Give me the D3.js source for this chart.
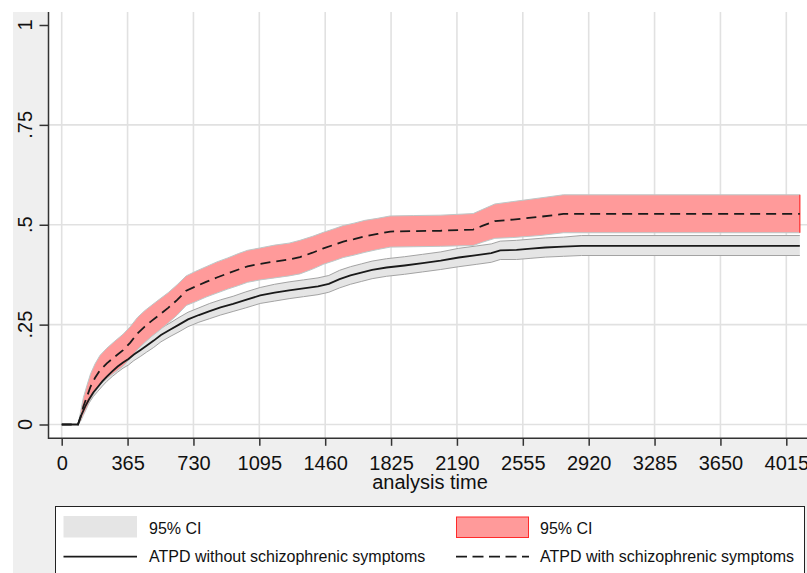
<!DOCTYPE html>
<html>
<head>
<meta charset="utf-8">
<script src="https://cdn.jsdelivr.net/npm/d3@7"></script>
<style>
  html, body { margin: 0; padding: 0; background: #fff; }
  svg { display: block; font-family: Arial, "Liberation Sans", sans-serif; }
</style>
</head>
<body>
<div id="chart"></div>
<script>
// ---- data ----
const xTicks = [0, 365, 730, 1095, 1460, 1825, 2190, 2555, 2920, 3285, 3650, 4015];
const yTicks = [0, 0.25, 0.5, 0.75, 1];
const yTickLabels = ['0', '.25', '.5', '.75', '1'];

// ATPD without schizophrenic symptoms
const noSxTime = [0, 90, 110, 130, 150, 175, 200, 225, 250, 280, 310, 340, 370, 400, 435, 470, 510, 550, 600, 650,
  700, 760, 820, 880, 950, 1020, 1100, 1180, 1260, 1340, 1420, 1480, 1540, 1600, 1660, 1720, 1800, 1900, 2000,
  2100, 2200, 2300, 2380, 2430, 2520, 2600, 2680, 2780, 2880, 4090];
const noSxFail = [0, 0, .025, .045, .062, .080, .094, .108, .120, .133, .145, .155, .164, .175, .186, .197, .210, .224, .237, .250,
  .263, .274, .284, .293, .302, .312, .323, .330, .336, .341, .346, .352, .364, .373, .380, .387, .393, .398, .404,
  .410, .418, .424, .429, .436, .437, .440, .443, .445, .447, .447];
const noSxLo = [0, 0, .019, .037, .053, .070, .083, .096, .108, .120, .131, .141, .149, .160, .170, .181, .193, .207, .220, .232,
  .245, .256, .265, .274, .283, .292, .303, .309, .315, .320, .325, .331, .342, .351, .358, .365, .371, .376, .382,
  .388, .395, .401, .406, .413, .413, .416, .419, .421, .423, .423];
const noSxHi = [0, 0, .031, .053, .071, .090, .105, .120, .132, .146, .159, .169, .179, .190, .202, .213, .227, .241, .254, .268,
  .281, .292, .303, .312, .321, .332, .343, .351, .357, .362, .367, .373, .386, .395, .402, .409, .415, .420, .426,
  .432, .441, .447, .452, .459, .461, .464, .467, .469, .473, .473];

// ATPD with schizophrenic symptoms
const withSxTime = [0, 90, 105, 120, 140, 160, 185, 212, 250, 290, 340, 380, 420, 460, 500, 540, 590, 640, 690, 740,
  800, 860, 920, 980, 1030, 1100, 1180, 1260, 1320, 1390, 1450, 1510, 1560, 1620, 1680, 1750, 1820, 1950, 2100,
  2280, 2330, 2400, 2500, 2650, 2780, 4090];
const withSxFail = [0, 0, .020, .045, .070, .095, .117, .136, .153, .168, .186, .205, .228, .245, .260, .274, .292, .312, .335, .345,
  .357, .368, .378, .388, .396, .402, .408, .413, .419, .430, .441, .450, .458, .464, .471, .477, .483, .484, .485,
  .488, .497, .509, .513, .520, .527, .527];
const withSxLo = [0, 0, .008, .023, .042, .063, .082, .099, .115, .129, .146, .165, .188, .205, .221, .235, .254, .274, .298, .307,
  .319, .329, .339, .348, .356, .362, .367, .372, .377, .389, .401, .410, .418, .424, .431, .438, .444, .445, .446,
  .448, .456, .466, .468, .473, .480, .480];
const withSxHi = [0, 0, .032, .067, .098, .127, .152, .173, .191, .207, .226, .245, .268, .285, .299, .313, .330, .350, .372, .383,
  .395, .407, .417, .428, .436, .442, .449, .454, .461, .471, .481, .490, .498, .504, .511, .516, .522, .523, .524,
  .528, .538, .552, .558, .567, .575, .575];

const legendLabels = ['95% CI', '95% CI', 'ATPD without schizophrenic symptoms', 'ATPD with schizophrenic symptoms'];

(function () {
  'use strict';

  const W = 807, H = 573;
  const plot = { left: 48.5, top: 12, right: 807, bottom: 438.3 };

  const x = d3.scaleLinear().domain([0, 4015]).range([61.7, 786.3]);
  const y = d3.scaleLinear().domain([0, 1]).range([424.5, 25]);

  const svg = d3.select('#chart').append('svg')
    .attr('width', W).attr('height', H);

  // graph region (grey) + plot region (white)
  svg.append('rect').attr('x', 13).attr('y', 12).attr('width', W - 13).attr('height', H - 12).attr('fill', '#efefef');
  svg.append('rect').attr('x', plot.left).attr('y', plot.top)
    .attr('width', plot.right - plot.left).attr('height', plot.bottom - plot.top).attr('fill', '#fff');

  // grid
  const grid = svg.append('g').attr('stroke', '#e1e1e1').attr('stroke-width', 1.6);
  grid.selectAll('line.v').data(xTicks).join('line')
    .attr('x1', d => x(d)).attr('x2', d => x(d)).attr('y1', plot.top).attr('y2', plot.bottom);
  grid.selectAll('line.h').data(yTicks.filter(d => d < 1)).join('line')
    .attr('x1', plot.left).attr('x2', plot.right).attr('y1', d => y(d)).attr('y2', d => y(d));

  const zip = (t, lo, hi) => t.map((d, i) => ({ t: d, lo: lo[i], hi: hi[i] }));
  const pts = (t, v) => t.map((d, i) => ({ t: d, v: v[i] }));

  // many tiny KM steps read as a near-smooth curve at this size
  const area = d3.area().curve(d3.curveLinear)
    .x(d => x(d.t)).y0(d => y(d.lo)).y1(d => y(d.hi));
  const line = d3.line().curve(d3.curveLinear).x(d => x(d.t)).y(d => y(d.v));

  // CI bands
  svg.append('path').datum(zip(noSxTime, noSxLo, noSxHi)).attr('d', area).attr('fill', '#e5e5e5');
  [noSxLo, noSxHi].forEach(b => {
    svg.append('path').datum(pts(noSxTime, b)).attr('d', line)
      .attr('fill', 'none').attr('stroke', '#a3a3a3').attr('stroke-width', 1);
  });

  svg.append('path').datum(zip(withSxTime, withSxLo, withSxHi)).attr('d', area).attr('fill', '#ff9a9a');
  [withSxLo, withSxHi].forEach(b => {
    svg.append('path').datum(pts(withSxTime, b)).attr('d', line)
      .attr('fill', 'none').attr('stroke', '#bcc8c8').attr('stroke-width', 1);
  });
  const lastT = withSxTime[withSxTime.length - 1];
  svg.append('line')
    .attr('x1', x(lastT)).attr('x2', x(lastT))
    .attr('y1', y(withSxLo[withSxLo.length - 1])).attr('y2', y(withSxHi[withSxHi.length - 1]))
    .attr('stroke', '#ff2a2a').attr('stroke-width', 1.2);

  // failure curves
  svg.append('path').datum(pts(noSxTime, noSxFail)).attr('d', line)
    .attr('fill', 'none').attr('stroke', '#1a1a1a').attr('stroke-width', 1.8);
  svg.append('path').datum(pts(withSxTime, withSxFail)).attr('d', line)
    .attr('fill', 'none').attr('stroke', '#1a1a1a').attr('stroke-width', 1.8).attr('stroke-dasharray', '10,6');

  // axes
  const axColor = '#333';
  svg.append('g').attr('transform', `translate(0,${plot.bottom})`)
    .call(d3.axisBottom(x).tickValues(xTicks).tickFormat(d3.format('d'))
      .tickSize(7.5).tickPadding(10).tickSizeOuter(0))
    .call(sel => {
      sel.select('.domain').remove();
      sel.selectAll('line').attr('stroke', axColor).attr('stroke-width', 1.5);
      sel.selectAll('text').attr('fill', '#111').style('font-size', '20px')
        .style('font-family', 'Arial, "Liberation Sans", sans-serif');
    });

  svg.append('g').attr('transform', `translate(${plot.left},0)`)
    .call(d3.axisLeft(y).tickValues(yTicks).tickSize(9).tickFormat(''))
    .call(sel => {
      sel.select('.domain').remove();
      sel.selectAll('line').attr('stroke', axColor).attr('stroke-width', 1.5);
    });
  svg.append('g').selectAll('text').data(yTicks).join('text')
    .attr('transform', d => `translate(31.5,${y(d)}) rotate(-90)`)
    .attr('text-anchor', 'middle')
    .attr('fill', '#111').style('font-size', '20px')
    .text((d, i) => yTickLabels[i]);

  svg.append('line').attr('x1', plot.left).attr('x2', plot.left).attr('y1', plot.top).attr('y2', plot.bottom + 0.75)
    .attr('stroke', axColor).attr('stroke-width', 1.5);
  svg.append('line').attr('x1', plot.left).attr('x2', plot.right).attr('y1', plot.bottom).attr('y2', plot.bottom)
    .attr('stroke', axColor).attr('stroke-width', 1.5);

  svg.append('text').attr('x', 430).attr('y', 489).attr('text-anchor', 'middle')
    .attr('fill', '#111').style('font-size', '20px').text('analysis time');

  // legend
  const lg = svg.append('g');
  lg.append('rect').attr('x', 55.5).attr('y', 506.5).attr('width', 749).attr('height', 80)
    .attr('fill', '#fff').attr('stroke', '#222').attr('stroke-width', 1);
  lg.append('rect').attr('x', 63.5).attr('y', 516).attr('width', 73.5).attr('height', 21.5).attr('fill', '#e5e5e5');
  lg.append('rect').attr('x', 456.5).attr('y', 517).attr('width', 72).attr('height', 20.5)
    .attr('fill', '#ff9a9a').attr('stroke', '#ff2a2a').attr('stroke-width', 1);
  lg.append('line').attr('x1', 63.5).attr('x2', 137).attr('y1', 556.7).attr('y2', 556.7)
    .attr('stroke', '#1a1a1a').attr('stroke-width', 1.8);
  lg.append('line').attr('x1', 456).attr('x2', 529).attr('y1', 556.7).attr('y2', 556.7)
    .attr('stroke', '#1a1a1a').attr('stroke-width', 1.8).attr('stroke-dasharray', '11,5.5');

  const lgText = [[149, 533.7], [540, 533.7], [149, 561.7], [540, 561.7]];
  lg.selectAll('text.lbl').data(legendLabels).join('text')
    .attr('x', (d, i) => lgText[i][0]).attr('y', (d, i) => lgText[i][1])
    .attr('fill', '#111').style('font-size', '16px')
    .text(d => d);
})();
</script>
</body>
</html>
